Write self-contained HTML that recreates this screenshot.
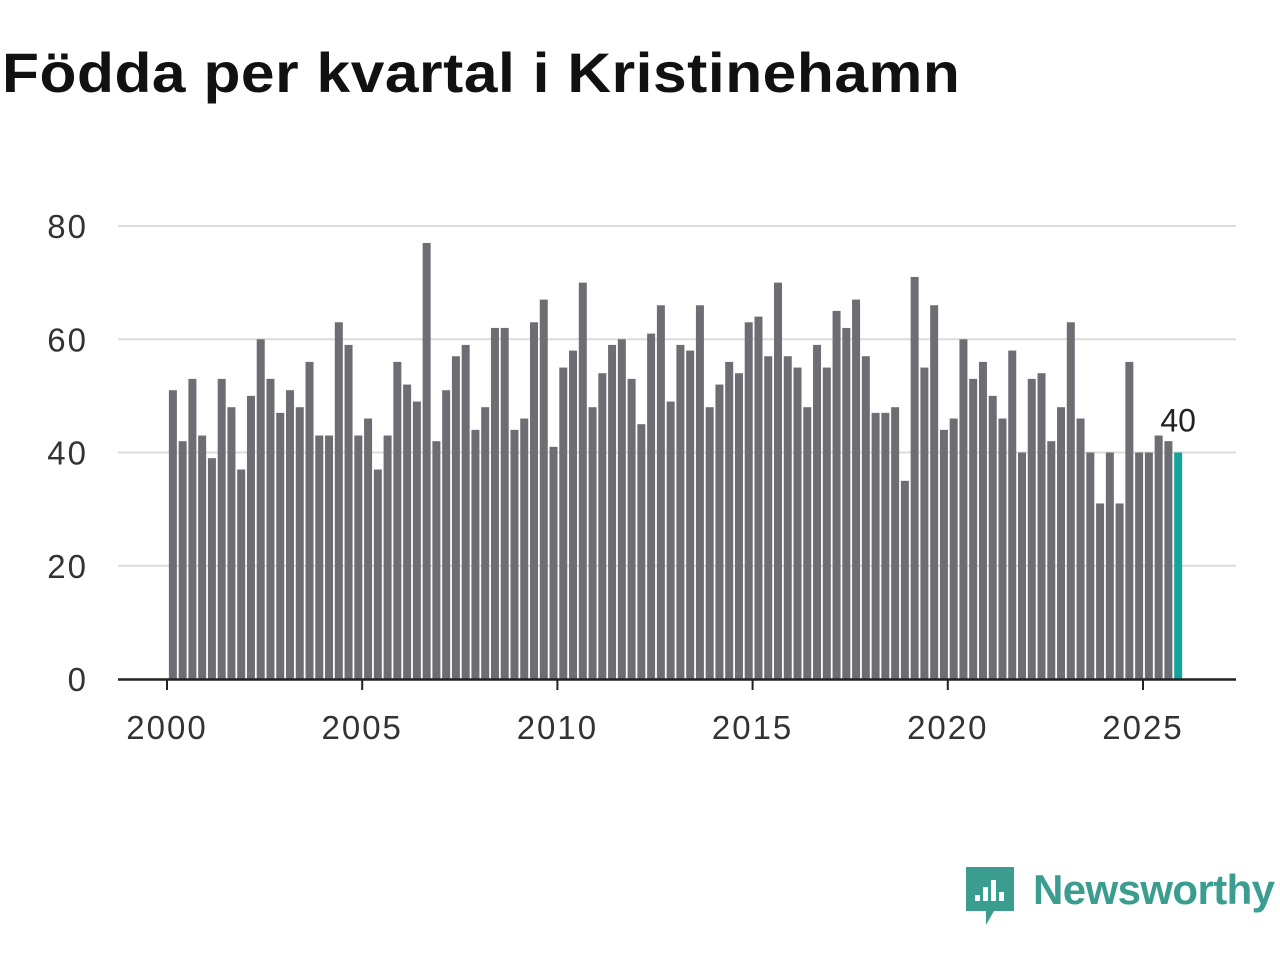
<!DOCTYPE html>
<html><head><meta charset="utf-8"><style>
body{margin:0;background:#fff;font-family:"Liberation Sans",sans-serif;}
#wrap{position:relative;width:1280px;height:960px;overflow:hidden;}
h1{position:absolute;left:2px;top:40px;margin:0;font-size:56px;font-weight:bold;color:#111;letter-spacing:0.5px;transform:scaleX(1.08);transform-origin:0 0;white-space:nowrap;}
</style></head><body>
<div id="wrap">
<h1>Födda per kvartal i Kristinehamn</h1>
<svg id="chart" width="1280" height="960" style="position:absolute;left:0;top:0"></svg>
</div>
<script>
const values=[51,42,53,43,39,53,48,37,50,60,53,47,51,48,56,43,43,63,59,43,46,37,43,56,52,49,77,42,51,57,59,44,48,62,62,44,46,63,67,41,55,58,70,48,54,59,60,53,45,61,66,49,59,58,66,48,52,56,54,63,64,57,70,57,55,48,59,55,65,62,67,57,47,47,48,35,71,55,66,44,46,60,53,56,50,46,58,40,53,54,42,48,63,46,40,31,40,31,56,40,40,43,42,40];
const startYear=2000;
const yTicks=[0,20,40,60,80];
const xTicks=[2000,2005,2010,2015,2020,2025];
const NS="http://www.w3.org/2000/svg";
const svg=document.getElementById('chart');
const y=v=>679-v*(453/80);
const x=t=>167+(t-2000)*39.04;
function mk(tag,attrs,parent){const e=document.createElementNS(NS,tag);for(const k in attrs)e.setAttribute(k,attrs[k]);(parent||svg).appendChild(e);return e;}
yTicks.forEach(v=>{
  if(v>0){const g=mk('line',{x1:118,x2:1236,y1:y(v),y2:y(v),stroke:'#dcdcdc','stroke-width':2});
  
  }
  const t=mk('text',{x:88,y:y(v)+12,'text-anchor':'end','font-size':33,'letter-spacing':2,fill:'#333','font-family':'Liberation Sans, sans-serif'});
  t.textContent=v;
  
  
});
values.forEach((v,i)=>{
  const c=x(startYear+(i+0.5)/4)+1;
  const last=i===values.length-1;
  const r=mk('rect',{x:c-4,y:y(v),width:8,height:y(0)-y(v),fill:last?'#16a39a':'#6e6d73'});
  
  
  if(last){const t=mk('text',{x:c,y:y(v)-21,'text-anchor':'middle','font-size':32,fill:'#222','font-family':'Liberation Sans, sans-serif'});
  t.textContent=v;
  
  }
});
const ax=mk('line',{x1:118,x2:1236,y1:679.5,y2:679.5,stroke:'#222','stroke-width':2.5});


xTicks.forEach(yr=>{
  const tk=mk('line',{x1:x(yr),x2:x(yr),y1:680,y2:690,stroke:'#222','stroke-width':2});
  
  
  const t=mk('text',{x:x(yr),y:739,'text-anchor':'middle','font-size':33,'letter-spacing':2,fill:'#333','font-family':'Liberation Sans, sans-serif'});
  t.textContent=yr;
  
  
});
const lg=mk('g',{});


mk('path',{d:'M966 867 h48 v44 h-20 l-8 14 v-14 h-20 z',fill:'#3a9d8f'},lg);
[[975,895,6],[983,887,14],[991,880,21],[999,892,9]].forEach(b=>mk('rect',{x:b[0],y:b[1],width:5,height:b[2],fill:'#fff'},lg));
const lt=mk('text',{x:1033,y:904,'font-size':42,'font-weight':'bold',textLength:242,fill:'#3a9d8f','font-family':'Liberation Sans, sans-serif'},lg);
lt.textContent='Newsworthy';
</script>
</body></html>
